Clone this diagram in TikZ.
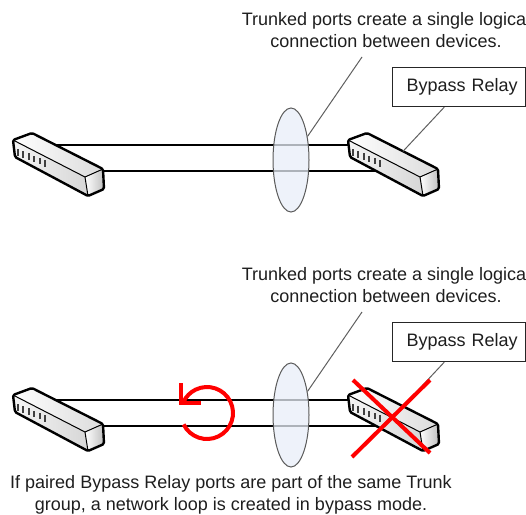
\documentclass[tikz,border=0pt]{standalone}
\usepackage{fontspec}
\setmainfont{Liberation Sans}
\usetikzlibrary{shapes.geometric,calc}
\pgfdeclarelayer{bg}
\pgfsetlayers{bg,main}

\definecolor{txt}{RGB}{30,30,30}
\definecolor{lead}{RGB}{95,95,95}
\definecolor{lens}{RGB}{232,238,248}
\definecolor{alarm}{RGB}{255,0,0}

\tikzset{
  cable/.style={black, line width=1.1pt},
  leader/.style={lead, line width=1pt},
  caption/.style={font=\fontsize{18}{22.5}\selectfont, text=txt, align=center, inner sep=0pt},
  relaybox/.style={draw=black!85, line width=1.1pt, fill=white, anchor=north west,
    minimum height=39pt, text width=117pt, align=right, inner xsep=8pt, inner ysep=0pt,
    font=\fontsize{18}{21}\selectfont, text=txt},
  trunk/.style={ellipse, draw=black!65, line width=1pt, fill=lens, fill opacity=0.75,
    minimum width=36pt, minimum height=104pt, inner sep=0pt},
  redmark/.style={alarm, line width=4pt},
  swedge/.style={black, line width=2.4pt, line join=round, rounded corners=1.5pt},
  swinner/.style={black, line width=1pt},
  % a rack switch seen from above; origin at its left tip, y grows downwards
  pics/switch/.style={code={
    \shade[left color=white, right color=gray!28] (0,0) -- (19,-7) -- (90,29) -- (72,37) -- cycle;
    \shade[left color=gray!8, right color=gray!32] (0,0) -- (72,37) -- (75,56) -- (2,17) -- cycle;
    \shade[left color=white, right color=gray!50] (72,37) -- (90,29) -- (91,49) -- (75,56) -- cycle;
    \foreach \i in {0,...,5}
      \fill[black!75] ({4+5.4*\i},{9+2.2*\i}) rectangle ++(2,6.5);
    \draw[swinner] (0,0) -- (72,37) -- (90,29);
    \draw[swinner] (72,37) -- (75,56);
    \draw[swedge] (0,0) -- (19,-7) -- (90,29) -- (91,49) -- (75,56) -- (2,17) -- cycle;
    \coordinate (-tp) at (30,5);
    \coordinate (-bp) at (60,31);
    \coordinate (-lead) at (55,11.3);
  }}
}

\begin{document}
\begin{tikzpicture}[x=1pt, y=-1pt]
  \useasboundingbox (0,0) rectangle (526,514);
  \clip (0,0) rectangle (526,514);

  % ---------- upper scene: trunk between two switches ----------
  \pic (sL) at (13,140) {switch};
  \pic (sR) at (348,140) {switch};
  \begin{pgfonlayer}{bg}
    \draw[cable] (sL-tp) -- (sR-tp);
    \draw[cable] (sL-bp) -- (sR-bp);
    \node[trunk] (e1) at (291,160) {};
  \end{pgfonlayer}

  \node[caption] (t1) at (386,30) {Trunked ports create a single logical\\connection between devices.};
  \coordinate (c1) at (362,57);
  \draw[leader] (c1) -- (e1.55);

  \node[relaybox] (b1) at (392,67) {Bypass Relay};
  \draw[leader] ($(b1.south west)!0.39!(b1.south east)$) -- (sR-lead);

  % ---------- lower scene: relay in bypass closes a loop ----------
  \pic (tL) at (13,395) {switch};
  \pic (tR) at (348,395) {switch};
  \begin{pgfonlayer}{bg}
    \draw[cable] (tL-tp) -- (tR-tp);
    \draw[cable] (tL-bp) -- (tR-bp);
    \node[trunk] (e2) at (291,415) {};
  \end{pgfonlayer}

  \node[caption] (t2) at (386,285) {Trunked ports create a single logical\\connection between devices.};
  \coordinate (c2) at (362,312);
  \draw[leader] (c2) -- (e2.55);

  \node[relaybox] (b2) at (392,322) {Bypass Relay};
  \draw[leader] ($(b2.south west)!0.39!(b2.south east)$) -- (tR-lead);

  % loop symbol
  \draw[redmark] (207,413) ++(154:26) arc[start angle=154, end angle=-155, radius=26];
  \draw[redmark, line join=miter] (181,383) -- (181,402.5) -- (201,402.5);

  % relay crossed out
  \draw[redmark] (353,380) -- (430,453);
  \draw[redmark] (430,380) -- (352,457);

  \node[caption] (t3) at (231,495) {If paired Bypass Relay ports are part of the same Trunk\\group, a network loop is created in bypass mode.};
\end{tikzpicture}
\end{document}
